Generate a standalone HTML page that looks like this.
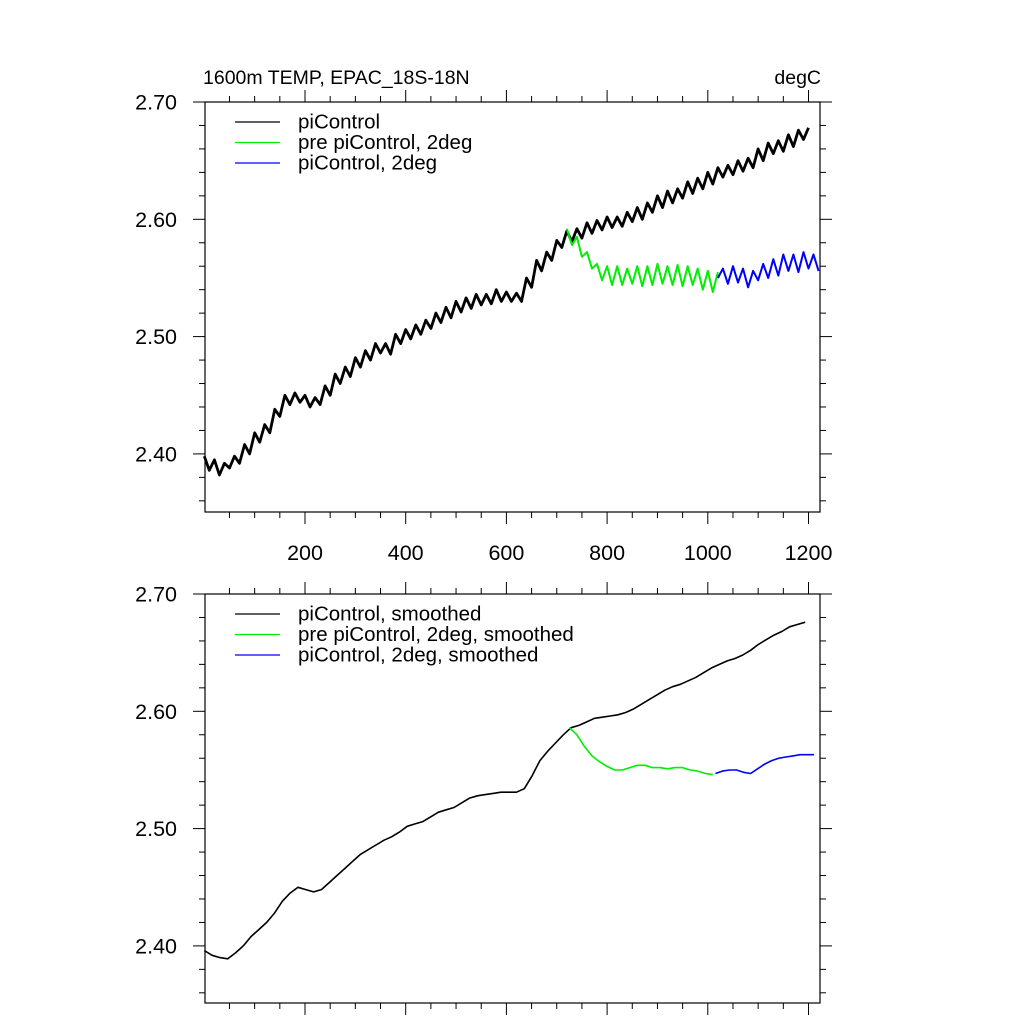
<!DOCTYPE html>
<html><head><meta charset="utf-8"><style>
html,body{margin:0;padding:0;background:#fff;}
svg{display:block;font-family:"Liberation Sans",sans-serif;}
</style></head><body>
<svg id="chart" width="1024" height="1024" viewBox="0 0 1024 1024" xmlns="http://www.w3.org/2000/svg">
<rect width="1024" height="1024" fill="#fff"/>
<text x="203" y="84" font-size="19.5">1600m TEMP, EPAC_18S-18N</text>
<text x="821" y="84" font-size="19.5" text-anchor="end">degC</text>
<g id="g"></g>
</svg>
<script>
const yTicks = [2.40, 2.50, 2.60, 2.70];
const yTickLabels = ["2.40", "2.50", "2.60", "2.70"];
const xTicks = [200, 400, 600, 800, 1000, 1200];
const xTickLabels = ["200", "400", "600", "800", "1000", "1200"];
const blackStart = 0, step = 10;
const rawBlack = [2.398,2.386,2.395,2.382,2.392,2.388,2.398,2.392,2.408,2.400,2.418,2.410,2.425,2.418,2.438,2.432,2.450,2.442,2.452,2.444,2.450,2.440,2.448,2.442,2.458,2.450,2.468,2.460,2.474,2.466,2.482,2.474,2.488,2.480,2.494,2.486,2.494,2.485,2.502,2.494,2.506,2.498,2.510,2.502,2.514,2.507,2.520,2.512,2.525,2.516,2.530,2.521,2.533,2.524,2.536,2.527,2.536,2.528,2.540,2.530,2.538,2.530,2.537,2.530,2.550,2.542,2.565,2.556,2.572,2.565,2.582,2.576,2.590,2.581,2.592,2.584,2.597,2.588,2.599,2.591,2.602,2.593,2.602,2.594,2.606,2.598,2.610,2.600,2.614,2.606,2.620,2.610,2.624,2.614,2.626,2.618,2.632,2.622,2.635,2.626,2.640,2.630,2.644,2.636,2.646,2.638,2.650,2.641,2.652,2.644,2.660,2.650,2.665,2.656,2.667,2.658,2.672,2.662,2.676,2.668,2.678];
const greenStart = 720;
const rawGreen = [2.592,2.578,2.585,2.568,2.572,2.558,2.562,2.548,2.560,2.544,2.560,2.544,2.558,2.545,2.560,2.543,2.560,2.544,2.562,2.545,2.560,2.544,2.561,2.543,2.560,2.544,2.558,2.540,2.556,2.538,2.555];
const blueStart = 1020;
const rawBlue = [2.550,2.558,2.545,2.560,2.546,2.558,2.542,2.556,2.548,2.562,2.550,2.566,2.552,2.570,2.556,2.570,2.555,2.572,2.558,2.570,2.556];
const smBlack = [2.396,2.392,2.390,2.389,2.394,2.400,2.408,2.414,2.420,2.428,2.438,2.445,2.450,2.448,2.446,2.448,2.454,2.460,2.466,2.472,2.478,2.482,2.486,2.490,2.493,2.497,2.502,2.504,2.506,2.510,2.514,2.516,2.518,2.522,2.526,2.528,2.529,2.530,2.531,2.531,2.531,2.534,2.545,2.558,2.566,2.573,2.580,2.586,2.588,2.591,2.594,2.595,2.596,2.597,2.599,2.602,2.606,2.610,2.614,2.618,2.621,2.623,2.626,2.629,2.633,2.637,2.640,2.643,2.645,2.648,2.652,2.657,2.661,2.665,2.668,2.672,2.674,2.676];
const smGreen = [2.586,2.580,2.570,2.562,2.557,2.553,2.550,2.550,2.552,2.554,2.554,2.552,2.552,2.551,2.552,2.552,2.550,2.549,2.547,2.546];
const smBlue = [2.547,2.549,2.550,2.550,2.548,2.547,2.551,2.555,2.558,2.560,2.561,2.562,2.563,2.563,2.563];
const smBlackStart = 0, smStep = 15.5;
const smGreenStart = 725, smGreenStep = 15;
const smBlueStart = 1015, smBlueStep = 14;

const NS = "http://www.w3.org/2000/svg";
const g = document.getElementById('g');
const L = 205, R = 820;
const xs = v => 204.3 + v * 0.5035;
const panels = [{top:102, bottom:512, xl:true}, {top:594, bottom:1003, xl:false}];
function mk(tag, attrs){const e=document.createElementNS(NS,tag);for(const k in attrs)e.setAttribute(k,attrs[k]);g.appendChild(e);return e;}

panels.forEach((p, pi) => {
  const ys = v => p.top + (2.70 - v) * 1173;
  const fr = mk('rect',{x:L,y:p.top,width:R-L,height:p.bottom-p.top,fill:'none',stroke:'#000','stroke-width':1.2});
  
  
  for (let k = 0; k <= 17; k++) {
    const v = 2.36 + k*0.02;
    const yy = ys(v); if (yy > p.bottom) continue;
    const major = (k % 5) === 2;
    const len = major ? 12 : 6;
    const t1 = mk('line',{x1:L-len,x2:L,y1:yy,y2:yy,stroke:'#000','stroke-width':1});
    
    
    const t2 = mk('line',{x1:R,x2:R+len,y1:yy,y2:yy,stroke:'#000','stroke-width':1});
    
    
  }
  yTicks.forEach((v,i) => {
    const t = mk('text',{x:177,y:ys(v)+7.5,'font-size':21.5,'text-anchor':'end'});
    t.textContent = yTickLabels[i];
    
    
  });
  for (let v = 50; v <= 1220; v += 50) {
    const xx = xs(v); if (xx > R) continue;
    const len = v % 200 === 0 ? 12 : 6;
    const a = mk('line',{x1:xx,x2:xx,y1:p.bottom,y2:p.bottom+len,stroke:'#000','stroke-width':1});
    
    
    const b = mk('line',{x1:xx,x2:xx,y1:p.top-len,y2:p.top,stroke:'#000','stroke-width':1});
    
    
  }
  if (p.xl) xTicks.forEach((v,i) => {
    const t = mk('text',{x:xs(v),y:560,'font-size':21.5,'text-anchor':'middle'});
    t.textContent = xTickLabels[i];
    
    
  });
  function series(arr, start, st, color, w, name){
    const pts = arr.map((v,i)=> xs(start + i*st).toFixed(1)+','+ys(v).toFixed(1)).join(' ');
    const pl = mk('polyline',{points:pts,fill:'none',stroke:color,'stroke-width':w,'stroke-linejoin':'round'});
    
    
  }
  if (pi === 0) {
    series(rawBlack, blackStart, step, '#000', 2.8, 'picontrol-line');
    series(rawGreen, greenStart, step, '#00ee00', 2, 'pre-picontrol-2deg-line');
    series(rawBlue, blueStart, step, '#0000ff', 2, 'picontrol-2deg-line');
  } else {
    series(smBlack, smBlackStart, smStep, '#000', 1.6, 'picontrol-smoothed-line');
    series(smGreen, smGreenStart, smGreenStep, '#00ee00', 1.6, 'pre-picontrol-2deg-smoothed-line');
    series(smBlue, smBlueStart, smBlueStep, '#0000ff', 1.6, 'picontrol-2deg-smoothed-line');
  }
  const labels = pi === 0 ? ["piControl","pre piControl, 2deg","piControl, 2deg"] : ["piControl, smoothed","pre piControl, 2deg, smoothed","piControl, 2deg, smoothed"];
  const cols = ['#000','#00ee00','#0000ff'];
  labels.forEach((s,i) => {
    const yy = p.top + 20 + i*20.5;
    const ln = mk('line',{x1:235,x2:280,y1:yy,y2:yy,stroke:cols[i],'stroke-width':1.3});
    
    
    const t = mk('text',{x:298,y:yy+6.5,'font-size':20.5});
    t.textContent = s;
    
    
  });
});
</script>
</body></html>
